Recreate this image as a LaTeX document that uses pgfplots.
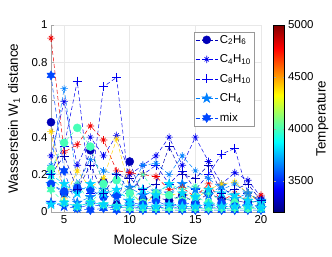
\documentclass[border=0pt]{standalone}
\usepackage{pgfplots}
\usepackage{pgfplotstable}
\pgfplotsset{compat=1.18}
\usepackage{fontspec}
\setmainfont{Liberation Sans}

\definecolor{j3300}{rgb}{0,0,0.72}
\definecolor{j3400}{rgb}{0,0,0.94}
\definecolor{j3550}{rgb}{0,0.28,1}
\definecolor{j3650}{rgb}{0,0.5,1}
\definecolor{j3800}{rgb}{0,0.83,1}
\definecolor{j4000}{rgb}{0.28,1,0.72}
\definecolor{j4400}{rgb}{1,0.83,0}
\definecolor{j4500}{rgb}{1,0.61,0}
\definecolor{j4800}{rgb}{0.94,0,0}

\pgfdeclareplotmark{ast8}{%
  \pgfpathmoveto{\pgfqpoint{-\pgfplotmarksize}{0pt}}\pgfpathlineto{\pgfqpoint{\pgfplotmarksize}{0pt}}%
  \pgfpathmoveto{\pgfqpoint{0pt}{-\pgfplotmarksize}}\pgfpathlineto{\pgfqpoint{0pt}{\pgfplotmarksize}}%
  \pgfpathmoveto{\pgfpointpolar{45}{0.8\pgfplotmarksize}}\pgfpathlineto{\pgfpointpolar{225}{0.8\pgfplotmarksize}}%
  \pgfpathmoveto{\pgfpointpolar{135}{0.8\pgfplotmarksize}}\pgfpathlineto{\pgfpointpolar{315}{0.8\pgfplotmarksize}}%
  \pgfusepathqstroke}
\pgfdeclareplotmark{pentagram}{%
  \pgfpathmoveto{\pgfpointpolar{90}{\pgfplotmarksize}}%
  \pgfpathlineto{\pgfpointpolar{126}{0.382\pgfplotmarksize}}%
  \pgfpathlineto{\pgfpointpolar{162}{\pgfplotmarksize}}%
  \pgfpathlineto{\pgfpointpolar{198}{0.382\pgfplotmarksize}}%
  \pgfpathlineto{\pgfpointpolar{234}{\pgfplotmarksize}}%
  \pgfpathlineto{\pgfpointpolar{270}{0.382\pgfplotmarksize}}%
  \pgfpathlineto{\pgfpointpolar{306}{\pgfplotmarksize}}%
  \pgfpathlineto{\pgfpointpolar{342}{0.382\pgfplotmarksize}}%
  \pgfpathlineto{\pgfpointpolar{18}{\pgfplotmarksize}}%
  \pgfpathlineto{\pgfpointpolar{54}{0.382\pgfplotmarksize}}%
  \pgfpathclose\pgfusepathqfillstroke}
\pgfdeclareplotmark{hexagram}{%
  \pgfpathmoveto{\pgfpointpolar{90}{\pgfplotmarksize}}%
  \pgfpathlineto{\pgfpointpolar{120}{0.577\pgfplotmarksize}}%
  \pgfpathlineto{\pgfpointpolar{150}{\pgfplotmarksize}}%
  \pgfpathlineto{\pgfpointpolar{180}{0.577\pgfplotmarksize}}%
  \pgfpathlineto{\pgfpointpolar{210}{\pgfplotmarksize}}%
  \pgfpathlineto{\pgfpointpolar{240}{0.577\pgfplotmarksize}}%
  \pgfpathlineto{\pgfpointpolar{270}{\pgfplotmarksize}}%
  \pgfpathlineto{\pgfpointpolar{300}{0.577\pgfplotmarksize}}%
  \pgfpathlineto{\pgfpointpolar{330}{\pgfplotmarksize}}%
  \pgfpathlineto{\pgfpointpolar{0}{0.577\pgfplotmarksize}}%
  \pgfpathlineto{\pgfpointpolar{30}{\pgfplotmarksize}}%
  \pgfpathlineto{\pgfpointpolar{60}{0.577\pgfplotmarksize}}%
  \pgfpathclose\pgfusepathqfillstroke}

\pgfplotstableread{
x  s1   s2   s3   s4   s5   s6    s7   s8   s9   s10  s11  s12  s13  s14  s15  s16
4  0.48 0.30 0.22 0.15 0.73 0.93  0.43 0.25 0.18 0.23 0.15 0.05 0.20 0.12 0.20 0.04
5  0.10 0.59 0.35 0.10 0.22 0.32  0.07 0.66 0.12 0.37 0.11 0.03 0.15 0.05 0.30 0.05
6  0.12 0.25 0.70 0.05 0.02 0.36  0.22 0.15 0.15 0.45 0.13 0.02 0.10 0.03 0.12 0.03
7  0.33 0.40 0.10 0.08 0.01 0.46  0.13 0.28 0.05 0.35 0.12 0.04 0.15 0.05 0.25 0.05
8  0.16 0.30 0.67 0.12 0.02 0.385 0.18 0.22 0.12 0.15 0.08 0.03 0.10 0.04 0.10 0.04
9  0.04 0.41 0.72 0.08 0.01 0.22  0.39 0.20 0.10 0.17 0.09 0.02 0.12 0.03 0.20 0.03
10 0.27 0.20 0.10 0.13 0.01 0.21  0.12 0.12 0.08 0.10 0.05 0.03 0.06 0.02 0.18 0.04
11 0.07 0.25 0.20 0.09 0.01 0.20  0.03 0.25 0.20 0.05 0.04 0.02 0.12 0.02 0.12 0.03
12 0.08 0.30 0.25 0.11 0.01 0.19  0.10 0.26 0.10 0.10 0.06 0.02 0.09 0.02 0.15 0.03
13 0.06 0.40 0.15 0.10 0.01 0.12  0.09 0.20 0.15 0.09 0.03 0.03 0.15 0.02 0.35 0.04
14 0.09 0.25 0.22 0.15 0.01 0.13  0.10 0.30 0.12 0.06 0.05 0.02 0.10 0.02 0.20 0.03
15 0.05 0.40 0.12 0.12 0.01 0.08  0.07 0.22 0.14 0.08 0.04 0.02 0.08 0.02 0.18 0.03
16 0.10 0.27 0.20 0.09 0.01 0.15  0.12 0.18 0.10 0.05 0.03 0.03 0.12 0.02 0.25 0.04
17 0.07 0.15 0.31 0.14 0.01 0.06  0.15 0.12 0.06 0.04 0.05 0.02 0.10 0.02 0.10 0.03
18 0.06 0.21 0.34 0.07 0.01 0.10  0.16 0.15 0.08 0.05 0.03 0.02 0.09 0.02 0.12 0.03
19 0.05 0.17 0.10 0.10 0.01 0.06  0.10 0.10 0.07 0.02 0.04 0.03 0.06 0.02 0.15 0.03
20 0.06 0.08 0.05 0.06 0.01 0.09  0.05 0.06 0.03 0.04 0.03 0.02 0.05 0.02 0.06 0.02
}\data

\pgfplotsset{
  ds/.style={line width=0.5bp, dash pattern=on 4bp off 2.5bp},
  mC2/.style={ds, color=#1, mark=*, mark size=4bp, mark options={solid, fill=#1}},
  mC4/.style={ds, color=#1, mark=ast8, mark size=3.8bp, mark options={solid, line width=0.6bp}},
  mC8/.style={ds, color=#1, mark=+, mark size=4.5bp, mark options={solid, line width=0.6bp}},
  mCH/.style={ds, color=#1, mark=pentagram, mark size=5bp, mark options={solid, fill=#1}},
  mMX/.style={ds, color=#1, mark=hexagram, mark size=4.5bp, mark options={solid, fill=#1}},
}

\begin{document}
\begin{tikzpicture}
\useasboundingbox (-51bp,-45bp) rectangle (281bp,212bp);
\begin{axis}[
  scale only axis, width=210bp, height=187bp,
  xmin=4, xmax=20, ymin=0, ymax=1,
  xtick={5,10,15,20}, ytick={0,0.2,0.4,0.6,0.8,1},
  /pgf/number format/assume math mode=true,
  tick label style={font=\fontsize{11.5}{12}\selectfont},
  label style={font=\fontsize{13.5}{14}\selectfont},
  xlabel={Molecule Size},
  ylabel={Wasserstein W\textsubscript{1} distance},
  xlabel style={at={(axis description cs:0.498,-0.15)}, anchor=center},
  ylabel style={at={(axis description cs:-0.176,0.5)}, anchor=center},
  axis lines*=left,
  axis line style={gray!70, line width=0.9bp},
  grid=major, grid style={gray!18, line width=0.5bp},
  tick style={gray!70}, tick align=inside, major tick length=3bp,
  colormap/jet, point meta min=3200, point meta max=5000,
  colorbar,
  colorbar style={
    at={(parent axis.north east)}, anchor=north west, xshift=4bp,
    width=11bp, axis lines=box, grid=none,
    ytick={3500,4000,4500,5000},
    /pgf/number format/1000 sep={},
    /pgf/number format/assume math mode=true,
    yticklabel style={font=\fontsize{11.5}{12}\selectfont},
    ylabel={Temperature},
    ylabel style={font=\fontsize{13.5}{14}\selectfont, at={(axis description cs:4.45,0.5)}, anchor=center, rotate=0},
    major tick length=2bp,
  },
  legend style={at={(rel axis cs:0.967,0.963)}, anchor=north east,
    font=\fontsize{11.5}{12}\selectfont, draw=gray!80, fill=white,
    inner sep=1bp, row sep=6bp},
  legend cell align=left,
  legend image code/.code={\draw[mark repeat=2, mark phase=2] plot coordinates {(0bp,0bp) (11bp,0bp) (22bp,0bp)};},
]
\addplot[mC2=j3300] table[x=x,y=s1]{\data};
\addplot[mC4=j3400] table[x=x,y=s2]{\data};
\addplot[mC8=j3400] table[x=x,y=s3]{\data};
\addplot[mCH=j3650] table[x=x,y=s4]{\data};
\addplot[mMX=j3550] table[x=x,y=s5]{\data};
\legend{C\textsubscript{2}H\textsubscript{6}, C\textsubscript{4}H\textsubscript{10}, C\textsubscript{8}H\textsubscript{10}, CH\textsubscript{4}, mix}
\addplot[mC4=j4800, forget plot] table[x=x,y=s6]{\data};
\addplot[mC4=j4400, forget plot] table[x=x,y=s7]{\data};
\addplot[mC4=j3650, forget plot] table[x=x,y=s8]{\data};
\addplot[mC4=j4000, forget plot] table[x=x,y=s9]{\data};
\addplot[mC2=j4000, forget plot] table[x=x,y=s10]{\data};
\addplot[mC2=j3550, forget plot] table[x=x,y=s11]{\data};
\addplot[mCH=j3550, forget plot] table[x=x,y=s12]{\data};
\addplot[mCH=j3800, forget plot] table[x=x,y=s13]{\data};
\addplot[mMX=j4000, forget plot] table[x=x,y=s14]{\data};
\addplot[mC8=j3300, forget plot] table[x=x,y=s15]{\data};
\addplot[mCH=j3800, forget plot] table[x=x,y=s16]{\data};
\end{axis}
\end{tikzpicture}
\end{document}
